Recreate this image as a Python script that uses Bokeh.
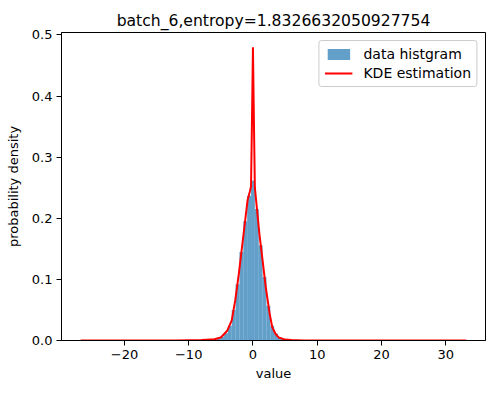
from bokeh.plotting import figure
from bokeh.models import Range1d, FixedTicker, Legend, LegendItem
from bokeh.embed import file_html
from bokeh.resources import INLINE

title_text = "batch_6,entropy=1.8326632050927754"

# histogram (density) bins
bin_left = [-26.8, -5.7, -5.1, -4.5, -3.9, -3.3, -2.7, -2.1, -1.5, -0.9, -0.3,
            0.3, 0.9, 1.5, 2.1, 2.7, 3.3, 3.9, 4.5, 32.6]
bin_right = [-26.2, -5.1, -4.5, -3.9, -3.3, -2.7, -2.1, -1.5, -0.9, -0.3, 0.3,
             0.9, 1.5, 2.1, 2.7, 3.3, 3.9, 4.5, 5.1, 33.2]
hist_density = [0.0003, 0.003, 0.006, 0.012, 0.024, 0.05, 0.092, 0.145, 0.195, 0.237, 0.262,
                0.215, 0.156, 0.104, 0.057, 0.024, 0.011, 0.005, 0.002, 0.0003]

# KDE estimation curve
kde_x = [-26.8, -12, -8, -6, -5, -4, -3.3, -2.75, -2.2, -1.7, -1.2, -0.83, -0.5,
         -0.3, -0.15, 0, 0.15, 0.3, 0.6, 1.0, 1.5, 2.0, 2.6, 3.0, 3.5, 4.0, 5, 6,
         8, 12, 33.2]
kde_y = [0.0, 0.0002, 0.0008, 0.002, 0.005, 0.016, 0.033, 0.066, 0.109, 0.153,
         0.197, 0.23, 0.243, 0.252, 0.36, 0.48, 0.36, 0.25, 0.218, 0.175, 0.131,
         0.087, 0.044, 0.022, 0.011, 0.005, 0.0015, 0.0007, 0.0002, 0.0001, 0.0]

x_ticks = [-20, -10, 0, 10, 20, 30]
y_ticks = [0.0, 0.1, 0.2, 0.3, 0.4, 0.5]

FONT = "DejaVu Sans"

p = figure(width=488, height=385, output_backend="svg", toolbar_location=None,
           x_range=Range1d(-29.8, 36.2), y_range=Range1d(0, 0.504),
           min_border_left=61, min_border_right=3, min_border_top=32,
           min_border_bottom=45)
p.title.text = title_text
p.title.align = "center"
p.title.text_font = FONT
p.title.text_font_size = "15.6px"
p.title.text_font_style = "normal"
p.title.text_color = "black"
p.title.offset = 0
p.title.standoff = 6

p.grid.visible = False
p.background_fill_color = "white"
p.border_fill_color = "white"
p.outline_line_color = "black"
p.outline_line_width = 1
p.outline_line_alpha = 1

hist = p.quad(left=bin_left, right=bin_right, bottom=0, top=hist_density,
              fill_color="#1f77b4", fill_alpha=0.7, line_color=None)
kde = p.line(kde_x, kde_y, line_color="red", line_width=2)

for ax in (p.xaxis[0], p.yaxis[0]):
    ax.major_label_text_font = FONT
    ax.major_label_text_font_size = "13px"
    ax.major_label_text_color = "black"
    ax.axis_label_text_font = FONT
    ax.axis_label_text_font_size = "13px"
    ax.axis_label_text_font_style = "normal"
    ax.axis_label_text_color = "black"
    ax.axis_line_color = "black"
    ax.major_tick_line_color = "black"
    ax.major_tick_out = 5
    ax.major_tick_in = 0
    ax.minor_tick_line_color = None

p.xaxis.ticker = FixedTicker(ticks=x_ticks)
p.xaxis.major_label_overrides = {t: (str(t).replace("-", "\u2212")) for t in x_ticks}
p.xaxis.axis_label = "value"
p.xaxis.axis_label_standoff = 4
p.xaxis.major_label_standoff = 4

p.yaxis.ticker = FixedTicker(ticks=y_ticks)
p.yaxis.major_label_overrides = {t: f"{t:.1f}" for t in y_ticks}
p.yaxis.axis_label = "probability density"
p.yaxis.axis_label_standoff = 8
p.yaxis.major_label_standoff = 4

legend = Legend(items=[LegendItem(label="data histgram", renderers=[hist]),
                       LegendItem(label="KDE estimation", renderers=[kde])],
                location="top_right")
legend.label_text_font = FONT
legend.label_text_font_size = "14px"
legend.label_text_color = "black"
legend.border_line_color = "#cccccc"
legend.border_line_alpha = 1
legend.border_radius = 3
legend.background_fill_alpha = 0.8
legend.margin = 8
legend.padding = 5
legend.spacing = 3
legend.glyph_width = 28
legend.glyph_height = 14
legend.label_standoff = 11
p.add_layout(legend, "center")

open("out.html", "w").write(file_html(p, INLINE))
